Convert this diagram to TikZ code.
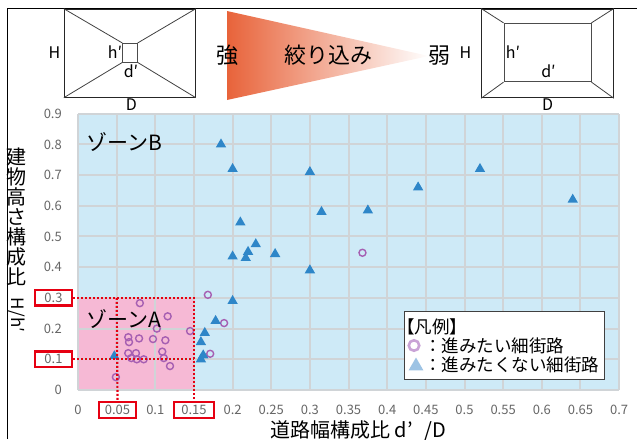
\documentclass[tikz,border=0pt]{standalone}
\usepackage{fontspec}
\setmainfont{Noto Sans CJK JP}
\usetikzlibrary{shapes.geometric}

\definecolor{plotblue}{HTML}{CEEAF7}
\definecolor{zonepink}{HTML}{F6B9D5}
\definecolor{gridgray}{HTML}{D0D4D7}
\definecolor{triblue}{HTML}{2E86C8}
\definecolor{trilight}{HTML}{9DC3E4}
\definecolor{ringpurple}{HTML}{A65FB2}
\definecolor{ringlight}{HTML}{C9A3D6}
\definecolor{markred}{HTML}{E60012}
\definecolor{wedgeorange}{HTML}{E8633A}
\definecolor{ticktext}{HTML}{666666}

\newcommand{\fsz}[1]{\fontsize{#1}{#1}\selectfont}

\begin{document}
\begin{tikzpicture}
  [x=1pt, y=-1pt,
   frame/.style={draw=black!85, line width=1pt, inner sep=0},
   dimlab/.style={inner sep=0, font=\fsz{16}},
   bigtext/.style={inner sep=0, font=\fsz{22}},
   grid/.style={draw=gridgray, line width=2pt},
   tick/.style={inner sep=0, text=ticktext, font=\fsz{13}},
   redbox/.style={draw=markred, line width=2.4pt, fill=white, minimum height=15.5pt, minimum width=#1},
   reddot/.style={draw=markred, line width=2.2pt, dash pattern=on 2pt off 2pt},
   want/.style={circle, draw=ringpurple, line width=1.4pt, minimum size=7pt, inner sep=0},
   notwant/.style={regular polygon, regular polygon sides=3, fill=triblue, minimum size=12pt, inner sep=0},
   zonetext/.style={inner sep=0, anchor=west, font=\fsz{21}},
   legtext/.style={inner sep=0, anchor=west, font=\fsz{17.5}}]
  \useasboundingbox (0,0) rectangle (637,439);
  \draw[line width=1pt] (7,439) -- (7,8) -- (637,8);

  % strong narrowing
  \node[frame, minimum width=131pt, minimum height=88pt] (outerL) at (129.8,53.2) {};
  \node[frame, draw=black!70, line width=0.8pt, minimum width=14.6pt, minimum height=18.7pt] (innerL) at (130,52.7) {};
  \foreach \c in {north west,north east,south west,south east}
    \draw[black!75, line width=0.8pt] (outerL.\c) -- (innerL.\c);
  \node[dimlab] (HL) at (54.5,52.5) {H};
  \node[dimlab] (hL) at (115,52) {h′};
  \node[dimlab] (dL) at (131,71) {d′};
  \node[dimlab] (DL) at (131.5,105) {D};

  % weak narrowing
  \node[frame, minimum width=131.6pt, minimum height=88.7pt] (outerR) at (547.5,53.4) {};
  \node[frame, draw=black!70, line width=0.8pt, minimum width=87pt, minimum height=58.4pt] (innerR) at (547.5,52.5) {};
  \foreach \c in {north west,north east,south west,south east}
    \draw[black!75, line width=0.8pt] (outerR.\c) -- (innerR.\c);
  \node[dimlab] (HR) at (465.5,53) {H};
  \node[dimlab] (hR) at (513,52) {h′};
  \node[dimlab] (dR) at (548.5,71) {d′};
  \node[dimlab] (DR) at (547.5,105) {D};

  \shade[left color=wedgeorange, right color=white] (227,11) -- (429,56) -- (227,100) -- cycle;
  \node[bigtext] (strong) at (227,55.5) {強};
  \node[bigtext] (squeeze) at (328.5,55) {絞り込み};
  \node[bigtext] (weak) at (439,55.5) {弱};

  % chart, in data units
  \begin{scope}[shift={(78,390)}, x=773pt, y=307pt]
    \fill[plotblue] (0,0) rectangle (0.7,0.9);
    \fill[zonepink] (0,0) rectangle (0.15,0.3);
    \foreach \i in {0,...,14}
      \draw[grid] (\i*0.05,0) -- (\i*0.05,0.9);
    \foreach \j in {0,...,9}
      \draw[grid] (0,\j*0.1) -- (0.7,\j*0.1);

    \foreach \px/\py [count=\n] in {0.168/0.31, 0.08/0.283, 0.116/0.24, 0.189/0.218,
        0.102/0.20, 0.145/0.192, 0.065/0.172, 0.079/0.168, 0.066/0.156, 0.097/0.166,
        0.113/0.162, 0.065/0.12, 0.075/0.12, 0.069/0.104, 0.076/0.10, 0.085/0.10,
        0.109/0.125, 0.111/0.104, 0.119/0.078, 0.049/0.042, 0.171/0.118, 0.368/0.447}
      \node[want] (want\n) at (\px,\py) {};
    \foreach \px/\py [count=\n] in {0.185/0.80, 0.20/0.72, 0.30/0.71, 0.52/0.72,
        0.44/0.66, 0.64/0.62, 0.315/0.58, 0.375/0.585, 0.21/0.546, 0.23/0.475,
        0.22/0.45, 0.20/0.435, 0.217/0.43, 0.255/0.443, 0.30/0.39, 0.20/0.29,
        0.178/0.225, 0.164/0.186, 0.159/0.156, 0.162/0.113, 0.159/0.10, 0.047/0.11}
      \node[notwant] (notwant\n) at (\px,\py) {};

    \foreach \v [count=\n] in {0,0.2,0.4,0.5,0.6,0.7,0.8,0.9}
      \node[tick, anchor=east] (ylab\n) at (-0.0207,\v) {\v};
    \foreach \v [count=\n] in {0,0.1,0.2,0.25,0.3,0.35,0.4,0.45,0.5,0.55,0.6,0.65,0.7}
      \node[tick] (xlab\n) at (\v,-0.065) {\v};
    \node[tick, redbox=37pt] (ylabA) at (-0.0317,0.3) {0.3};
    \node[tick, redbox=37pt] (ylabB) at (-0.0317,0.1) {0.1};
    \node[tick, redbox=37pt, minimum height=16pt] (xlabA) at (0.0511,-0.065) {0.05};
    \node[tick, redbox=40pt, minimum height=16pt] (xlabB) at (0.15,-0.065) {0.15};

    \coordinate (cornerA) at (0.15,0.3);
    \coordinate (cornerB) at (0.15,0.1);
    \coordinate (topA) at (0.05,0.3);
    \draw[reddot] (ylabA.east) -- (cornerA) -- (xlabB.north);
    \draw[reddot] (ylabB.east) -- (cornerB);
    \draw[reddot] (topA) -- (xlabA.north);

    \node[zonetext] (zoneB) at (0.0103,0.809) {ゾーンB};
    \node[zonetext] (zoneA) at (0.0103,0.231) {ゾーンA};
  \end{scope}

  % legend
  \node[draw=black!75, line width=1pt, fill=white, minimum width=200pt, minimum height=68pt, inner sep=0] (legend) at (504,345) {};
  \node[legtext] (legtitle) at (397,327) {【凡例】};
  \node[circle, draw=ringlight, line width=2.6pt, minimum size=10.5pt, inner sep=0] (legwant) at (414,345.5) {};
  \node[legtext] (legwanttext) at (424,345.5) {：進みたい細街路};
  \node[regular polygon, regular polygon sides=3, fill=trilight, minimum size=17pt, inner sep=0] (legnot) at (416,366) {};
  \node[legtext] (legnottext) at (424,364.5) {：進みたくない細街路};

  % axis titles
  \node[inner sep=0, align=center, font=\fsz{20}] (ytitle) at (16,217) {建\\物\\高\\さ\\構\\成\\比};
  \node[inner sep=0, rotate=-90, font=\fsz{17}] (yratio) at (17,315) {H/h′};
  \node[inner sep=0, font=\fsz{20}] (xtitle) at (358,431) {道路幅構成比 d’\hspace{7pt} /D};
\end{tikzpicture}
\end{document}
